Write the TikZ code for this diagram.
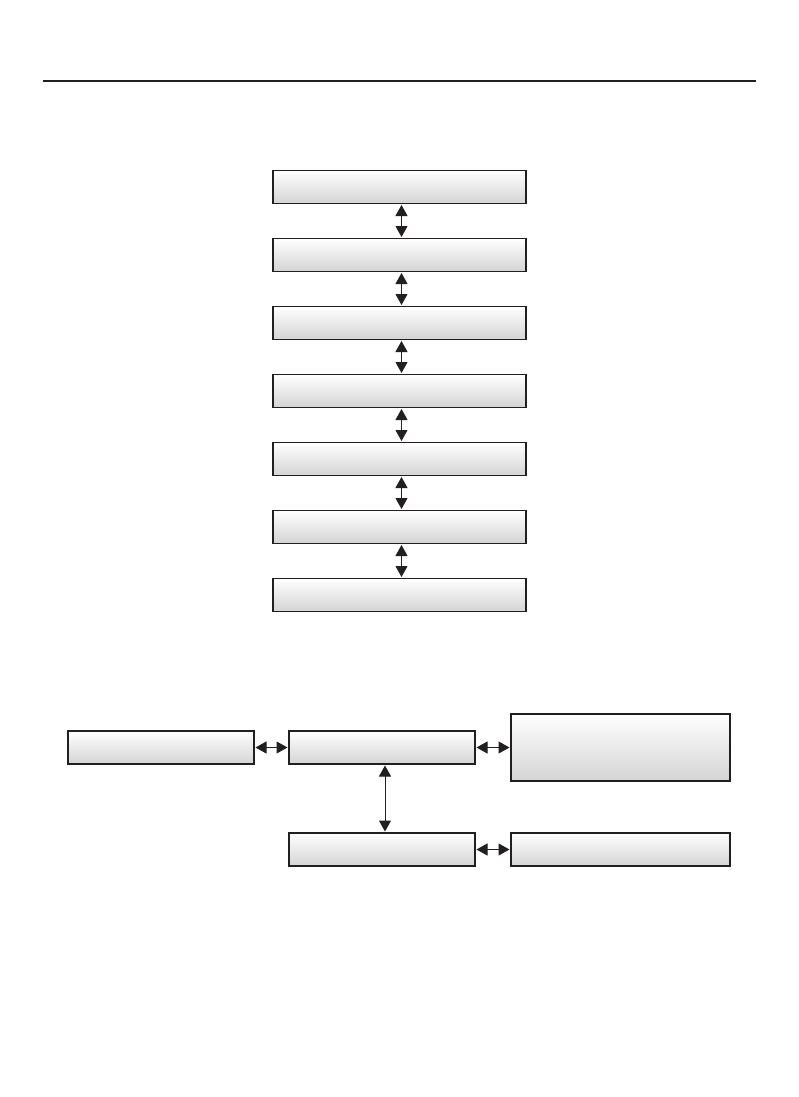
\documentclass[tikz,border=0pt]{standalone}
\usetikzlibrary{arrows.meta, positioning}
\definecolor{boxshade}{RGB}{212,212,212}
\definecolor{ink}{RGB}{35,31,32}

\begin{document}
\begin{tikzpicture}[
    x=1pt, y=-1pt,
    node distance=35pt,
    box/.style={draw=ink, line width=1.3pt, inner sep=0pt, outer sep=0pt, minimum width=253pt, minimum height=33pt, top color=white, bottom color=boxshade},
    wide/.style={box, minimum width=186pt},
    link/.style={{Triangle[length=11pt,width=12pt]}-{Triangle[length=11pt,width=12pt]}, draw=ink, fill=ink, line width=1pt, shorten <=1.5pt, shorten >=1.5pt}
  ]
    \useasboundingbox (0,0) rectangle (799,1097);
    \draw[ink, line width=2pt] (43,81) -- (756,81);
    % column of levels
    \node[box] (lvl1) at (399.5,187) {};
    \node[box, below=of lvl1] (lvl2) {};
    \node[box, below=of lvl2] (lvl3) {};
    \node[box, below=of lvl3] (lvl4) {};
    \node[box, below=of lvl4] (lvl5) {};
    \node[box, below=of lvl5] (lvl6) {};
    \node[box, below=of lvl6] (lvl7) {};
    \foreach \a/\b in {1/2, 2/3, 3/4, 4/5, 5/6, 6/7}
      \draw[link] ([xshift=2pt]lvl\a.south) -- ([xshift=2pt]lvl\b.north);
    % lower group
    \node[wide] (hub) at (382,747.5) {};
    \node[wide, left=of hub] (src) {};
    \node[box, minimum width=219pt, minimum height=67pt, right=36pt of hub] (out) {};
    \node[wide, below=69pt of hub] (sub) {};
    \node[box, minimum width=219pt, right=36pt of sub] (sink) {};
    \draw[link] (src) -- (hub);
    \draw[link] (hub) -- (out);
    \draw[link] ([xshift=3pt]hub.south) -- ([xshift=3pt]sub.north);
    \draw[link] (sub) -- (sink);
  \end{tikzpicture}
\end{document}
